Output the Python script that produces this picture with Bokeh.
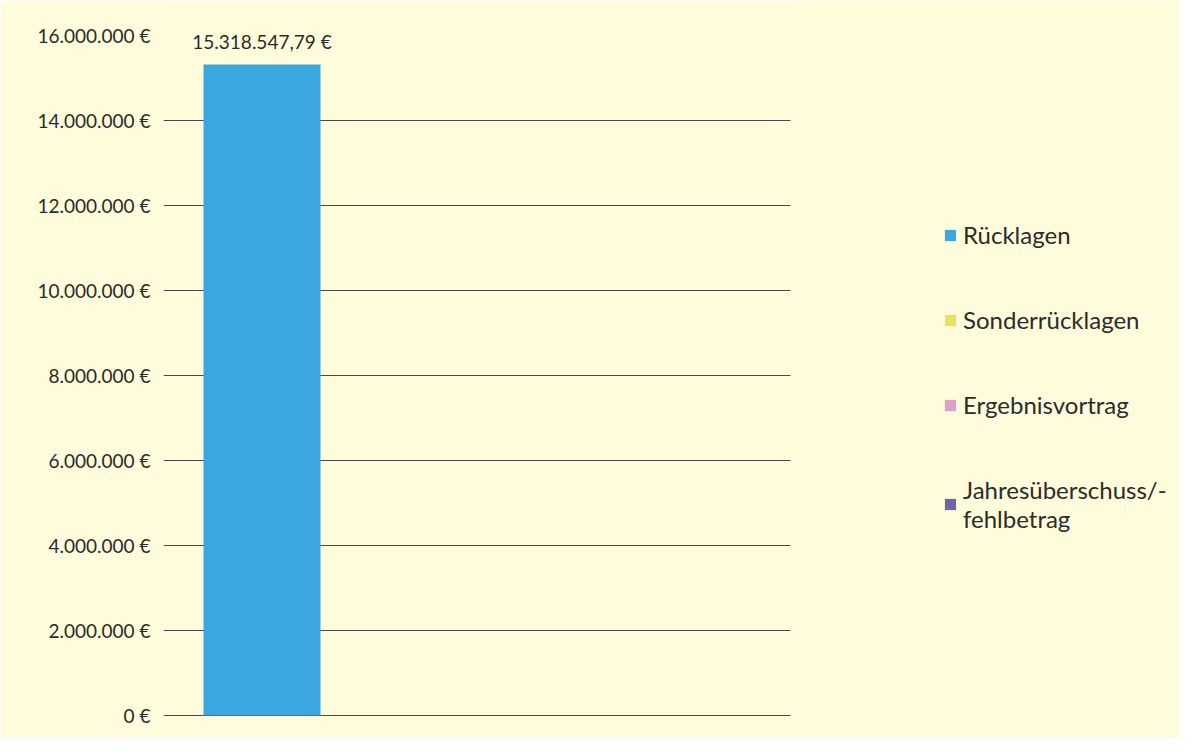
from bokeh.plotting import figure
from bokeh.models import Range1d, FixedTicker, Legend, LegendItem, ColumnDataSource, LabelSet, BoxAnnotation
from bokeh.core.properties import value
from bokeh.embed import file_html
from bokeh.resources import INLINE

# ---- data ----
categories = [0]
series_keys = ["ruecklagen", "sonder", "ergebnis", "jahres"]
series_labels = ["Rücklagen", "Sonderrücklagen", "Ergebnisvortrag", "Jahresüberschuss/-\nfehlbetrag"]
ruecklagen = [15318547.79]
sonder = [0.0]
ergebnis = [0.0]
jahres = [0.0]
colors = ["#3BA7E0", "#E9E15A", "#D8A2C9", "#6F64A8"]
bar_label = ["15.318.547,79 €"]
y_ticks = [0, 2000000, 4000000, 6000000, 8000000, 10000000, 12000000, 14000000, 16000000]
y_tick_labels = ["0 €", "2.000.000 €", "4.000.000 €", "6.000.000 €", "8.000.000 €",
                 "10.000.000 €", "12.000.000 €", "14.000.000 €", "16.000.000 €"]

BG = "#FEFCDB"
FONT = "Lato"
AXIS_X_END = 3.614   # right end of the drawn value area (in category units)

src = ColumnDataSource(dict(x=categories, ruecklagen=ruecklagen, sonder=sonder,
                            ergebnis=ergebnis, jahres=jahres,
                            top=[r + s + e + j for r, s, e, j in zip(ruecklagen, sonder, ergebnis, jahres)],
                            lbl=bar_label))

p = figure(width=1180, height=738, output_backend="svg", toolbar_location=None,
           x_range=Range1d(-0.6735, 6.281), y_range=Range1d(-25000, 16823500),
           min_border_left=163, min_border_right=0, min_border_top=0, min_border_bottom=22,
           background_fill_color=BG, border_fill_color=BG, outline_line_color=None)

# grid stops at the end of the value area; the rest of the frame is plain background
p.add_layout(BoxAnnotation(left=AXIS_X_END, fill_color=BG, fill_alpha=1.0, line_color=None,
                           level="underlay"))

rs = p.vbar_stack(series_keys, x="x", width=0.8, source=src, color=colors, line_color=None)

labels = LabelSet(x="x", y="top", text="lbl", source=src, text_align="center",
                  text_baseline="bottom", y_offset=11, text_font=value(FONT),
                  text_font_size=value("19px"), text_color=value("#2b2b2b"))
p.add_layout(labels)

p.xaxis.visible = False
p.xgrid.visible = False
p.yaxis.ticker = FixedTicker(ticks=y_ticks)
p.yaxis.major_label_overrides = {t: l for t, l in zip(y_ticks, y_tick_labels)}
p.yaxis.axis_line_color = None
p.yaxis.major_tick_line_color = None
p.yaxis.minor_tick_line_color = None
p.yaxis.major_label_standoff = 7
p.yaxis.major_label_text_font = FONT
p.yaxis.major_label_text_font_size = "19px"
p.yaxis.major_label_text_color = "#2b2b2b"
p.ygrid.ticker = FixedTicker(ticks=y_ticks[:-1])
p.ygrid.grid_line_color = "#4a4a4a"
p.ygrid.grid_line_width = 1
p.ygrid.level = "underlay"

items = [LegendItem(label=lab, renderers=[r]) for lab, r in zip(series_labels, rs)]
legend = Legend(items=items, location=(780, 183), orientation="vertical",
                background_fill_alpha=0, border_line_color=None,
                label_text_font=FONT, label_text_font_size="24px", label_text_color="#2b2b2b",
                glyph_width=14, glyph_height=14, spacing=56, label_standoff=6,
                padding=0, margin=0)
p.add_layout(legend, "center")

open("out.html", "w").write(file_html(p, INLINE))
